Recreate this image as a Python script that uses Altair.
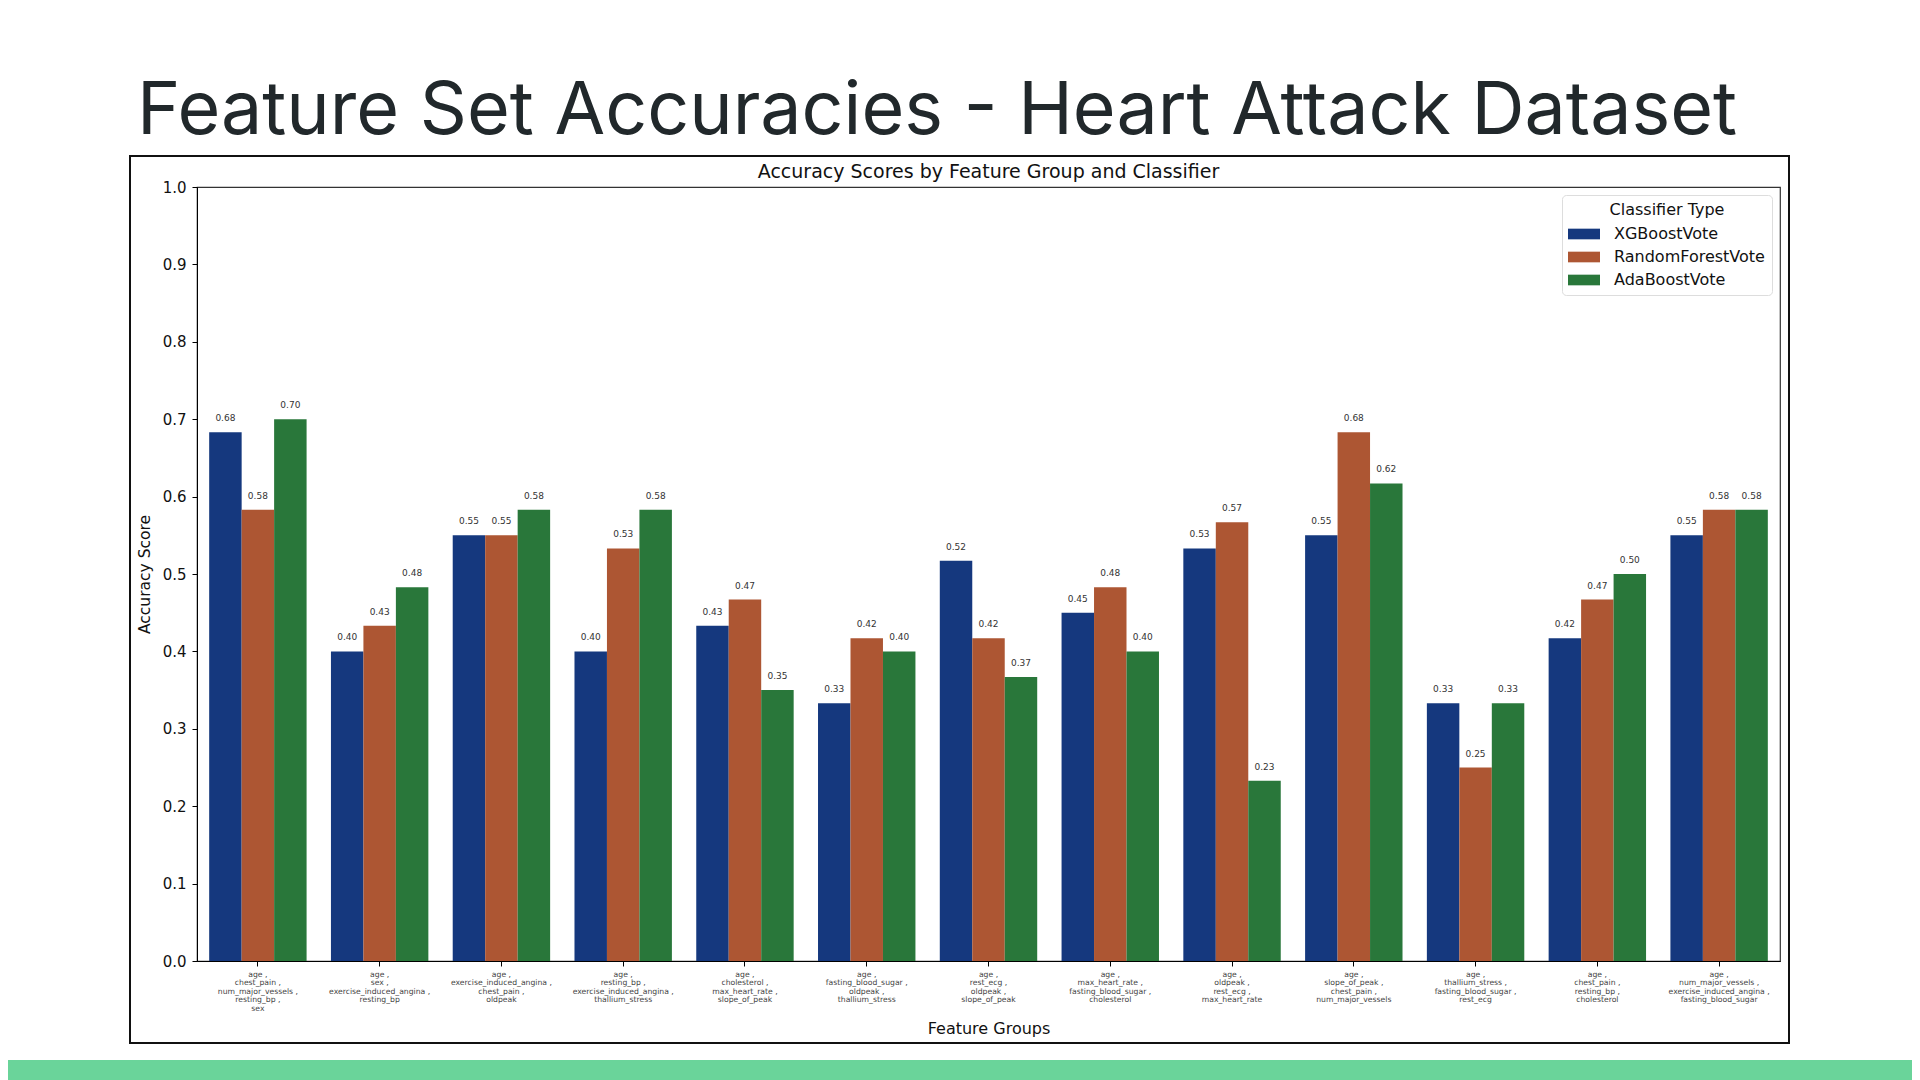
import altair as alt
import pandas as pd

slide_title = "Feature Set Accuracies - Heart Attack Dataset"
chart_title = "Accuracy Scores by Feature Group and Classifier"

groups = [
    ["age", "chest_pain", "num_major_vessels", "resting_bp", "sex"],
    ["age", "sex", "exercise_induced_angina", "resting_bp"],
    ["age", "exercise_induced_angina", "chest_pain", "oldpeak"],
    ["age", "resting_bp", "exercise_induced_angina", "thallium_stress"],
    ["age", "cholesterol", "max_heart_rate", "slope_of_peak"],
    ["age", "fasting_blood_sugar", "oldpeak", "thallium_stress"],
    ["age", "rest_ecg", "oldpeak", "slope_of_peak"],
    ["age", "max_heart_rate", "fasting_blood_sugar", "cholesterol"],
    ["age", "oldpeak", "rest_ecg", "max_heart_rate"],
    ["age", "slope_of_peak", "chest_pain", "num_major_vessels"],
    ["age", "thallium_stress", "fasting_blood_sugar", "rest_ecg"],
    ["age", "chest_pain", "resting_bp", "cholesterol"],
    ["age", "num_major_vessels", "exercise_induced_angina", "fasting_blood_sugar"],
]

classifiers = ["XGBoostVote", "RandomForestVote", "AdaBoostVote"]
colors = ["#15387E", "#AD5633", "#29773A"]

xgboost = [0.683, 0.400, 0.550, 0.400, 0.433, 0.333, 0.517, 0.450, 0.533, 0.550, 0.333, 0.417, 0.550]
randomforest = [0.583, 0.433, 0.550, 0.533, 0.467, 0.417, 0.417, 0.483, 0.567, 0.683, 0.250, 0.467, 0.583]
adaboost = [0.700, 0.483, 0.583, 0.583, 0.350, 0.400, 0.367, 0.400, 0.233, 0.617, 0.333, 0.500, 0.583]

y_ticks = [0.0, 0.1, 0.2, 0.3, 0.4, 0.5, 0.6, 0.7, 0.8, 0.9, 1.0]

labels = [" ,|".join(g) for g in groups]
rows = []
for name, vals in zip(classifiers, [xgboost, randomforest, adaboost]):
    for lab, v in zip(labels, vals):
        rows.append({"group": lab, "clf": name, "score": v})
df = pd.DataFrame(rows)

W, H = 1583, 774
FONT = "DejaVu Sans"

x_enc = alt.X(
    "group:N",
    sort=labels,
    scale=alt.Scale(paddingInner=0.2, paddingOuter=0.1),
    axis=alt.Axis(
        title="Feature Groups",
        labelExpr="split(datum.label, '|')",
        labelAngle=0,
        labelFontSize=7.7,
        labelLineHeight=8.6,
        labelColor="#444",
        labelFont=FONT,
        labelPadding=4,
        tickSize=5,
        tickColor="#000",
        domainColor="#000",
        titleFont=FONT,
        titleFontSize=16,
        titleFontWeight="normal",
        titleColor="#111",
        titlePadding=8,
    ),
)
xoff = alt.XOffset("clf:N", sort=classifiers, scale=alt.Scale(domain=classifiers, paddingInner=0, paddingOuter=0))
y_enc = alt.Y(
    "score:Q",
    scale=alt.Scale(domain=[0, 1], nice=False),
    axis=alt.Axis(
        title="Accuracy Score",
        values=y_ticks,
        format=".1f",
        grid=False,
        labelFontSize=15,
        labelFont=FONT,
        labelColor="#111",
        labelPadding=6,
        tickSize=5,
        tickColor="#000",
        domainColor="#000",
        titleFont=FONT,
        titleFontSize=15.5,
        titleFontWeight="normal",
        titleColor="#111",
        titlePadding=10,
    ),
)

bars = alt.Chart(df).mark_bar().encode(
    x=x_enc,
    xOffset=xoff,
    y=y_enc,
    color=alt.Color(
        "clf:N",
        sort=classifiers,
        scale=alt.Scale(domain=classifiers, range=colors),
        legend=alt.Legend(
            title="Classifier Type",
            orient="none",
            legendX=1365,
            legendY=8,
            fillColor="white",
            strokeColor="#dddddd",
            cornerRadius=4,
            padding=7,
            titleFont=FONT,
            titleFontSize=16,
            titleFontWeight="normal",
            titleColor="#111",
            titleAnchor="middle",
            titlePadding=5,
            labelFont=FONT,
            labelFontSize=16,
            labelColor="#111",
            labelOffset=19,
            symbolOffset=4,
            symbolType="M-1.5,-0.5H1.5V0.5H-1.5Z",
            symbolSize=455,
            symbolStrokeWidth=0,
            symbolOpacity=1,
            rowPadding=4,
        ),
    ),
)

values_text = alt.Chart(df).mark_text(
    fontSize=9, font=FONT, color="#333", baseline="alphabetic", dy=-11
).encode(
    x=alt.X("group:N", sort=labels),
    xOffset=alt.XOffset("clf:N", sort=classifiers),
    y="score:Q",
    text=alt.Text("score:Q", format=".2f"),
)

deco = pd.DataFrame({"t": [slide_title], "s": [chart_title]})

frame = alt.Chart(deco).mark_rect(fillOpacity=0, stroke="#111", strokeWidth=2).encode(
    x=alt.value(-67), x2=alt.value(1592), y=alt.value(-31), y2=alt.value(856)
)
band = alt.Chart(deco).mark_rect(fill="#6AD49A").encode(
    x=alt.value(-200), x2=alt.value(1800), y=alt.value(873), y2=alt.value(900)
)
title_text = alt.Chart(deco).mark_text(
    font="Inter", fontSize=73.5, color="#21282B", align="left", baseline="alphabetic"
).encode(x=alt.value(-60), y=alt.value(-53), text="t:N")
sub_text = alt.Chart(deco).mark_text(
    font=FONT, fontSize=19, color="#111", align="center", baseline="middle"
).encode(x=alt.value(W / 2), y=alt.value(-15), text="s:N")

chart = alt.layer(frame, band, title_text, sub_text, bars, values_text).properties(
    width=W,
    height=H,
    autosize=alt.AutoSizeParams(type="none"),
    padding={"left": 189, "top": 179, "right": 132, "bottom": 119},
).configure(background="white").configure_view(stroke="#333", strokeWidth=1.2)

chart.save("out.html", embed_options={"renderer": "svg", "actions": False})
